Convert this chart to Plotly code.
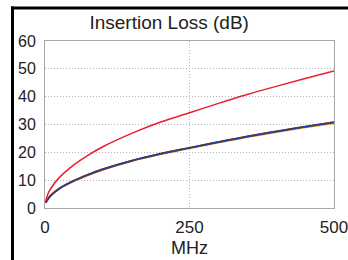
import plotly.graph_objects as go

freq_mhz = [1, 5, 10, 25, 50, 75, 100, 150, 200, 250, 300, 350, 400, 450, 500]
loss_red = [2.3, 5.0, 7.0, 11.0, 15.5, 19.0, 22.0, 26.8, 30.9, 34.2, 37.6, 40.8, 43.7, 46.5, 49.2]
loss_orange = [1.9, 3.2, 4.5, 7.0, 9.7, 11.9, 13.8, 16.9, 19.4, 21.5, 23.6, 25.5, 27.3, 29.0, 30.5]
loss_brown = [1.9, 3.2, 4.5, 7.0, 9.8, 12.0, 13.9, 17.0, 19.5, 21.6, 23.7, 25.7, 27.5, 29.2, 30.8]
loss_blue = [1.9, 3.2, 4.5, 7.0, 9.8, 12.0, 13.9, 17.0, 19.5, 21.6, 23.7, 25.7, 27.5, 29.2, 30.8]

x_ticks = [0, 250, 500]
y_ticks = [0, 10, 20, 30, 40, 50, 60]

fig = go.Figure()
fig.add_trace(go.Scatter(x=freq_mhz, y=loss_orange, mode="lines", line=dict(color="#f0a020", width=2.2), line_shape="spline"))
fig.add_trace(go.Scatter(x=freq_mhz, y=loss_brown, mode="lines", line=dict(color="#6b3a1a", width=2), line_shape="spline"))
fig.add_trace(go.Scatter(x=freq_mhz, y=loss_blue, mode="lines", line=dict(color="#2c3c9c", width=1.5), line_shape="spline"))
fig.add_trace(go.Scatter(x=freq_mhz, y=loss_red, mode="lines", line=dict(color="#e8202a", width=1.5), line_shape="spline"))

L, R, T, B = 45, 14, 41, 52
W, H = 348, 260
pw, ph = W - L - R, H - T - B

def px(xp):
    return (xp - L) / pw

def py(yp):
    return (H - B - yp) / ph

fig.update_layout(
    width=W, height=H,
    margin=dict(l=L, r=R, t=T, b=B, pad=0),
    paper_bgcolor="white", plot_bgcolor="white",
    showlegend=False,
    font=dict(family="Liberation Sans, Arial, sans-serif", color="#222"),
    title=dict(text="Insertion Loss (dB)", x=px(185.5), xanchor="center",
               y=1 - 22 / H, yanchor="middle", font=dict(size=19, color="#222")),
    xaxis=dict(range=[0, 500], tickvals=x_ticks, ticktext=[str(v) for v in x_ticks],
               showgrid=True, gridcolor="#b4b4b4", griddash="1px,2px", gridwidth=1,
               showline=True, linecolor="#a8a8a8", linewidth=1, mirror=True,
               zeroline=False, ticks="", tickfont=dict(size=17), ticklabelstandoff=4,
               ticklabeloverflow="allow",
               title=dict(text="MHz", font=dict(size=18), standoff=4), automargin=False),
    yaxis=dict(range=[0, 60], tickvals=y_ticks, ticktext=[str(v) for v in y_ticks],
               showgrid=True, gridcolor="#b4b4b4", griddash="1px,2px", gridwidth=1,
               showline=True, linecolor="#a8a8a8", linewidth=1, mirror=True,
               zeroline=False, ticks="", tickfont=dict(size=16), ticklabelstandoff=5,
               ticklabeloverflow="allow", automargin=False),
    shapes=[
        dict(type="line", xref="paper", yref="paper", x0=px(12.5), x1=px(12.5),
             y0=py(6.5), y1=py(270), line=dict(color="black", width=3)),
        dict(type="line", xref="paper", yref="paper", x0=px(11), x1=px(360),
             y0=py(8), y1=py(8), line=dict(color="black", width=3)),
    ],
)

fig.write_html("out.html", config={"displayModeBar": False},
               post_script="document.body.style.margin='0';")
